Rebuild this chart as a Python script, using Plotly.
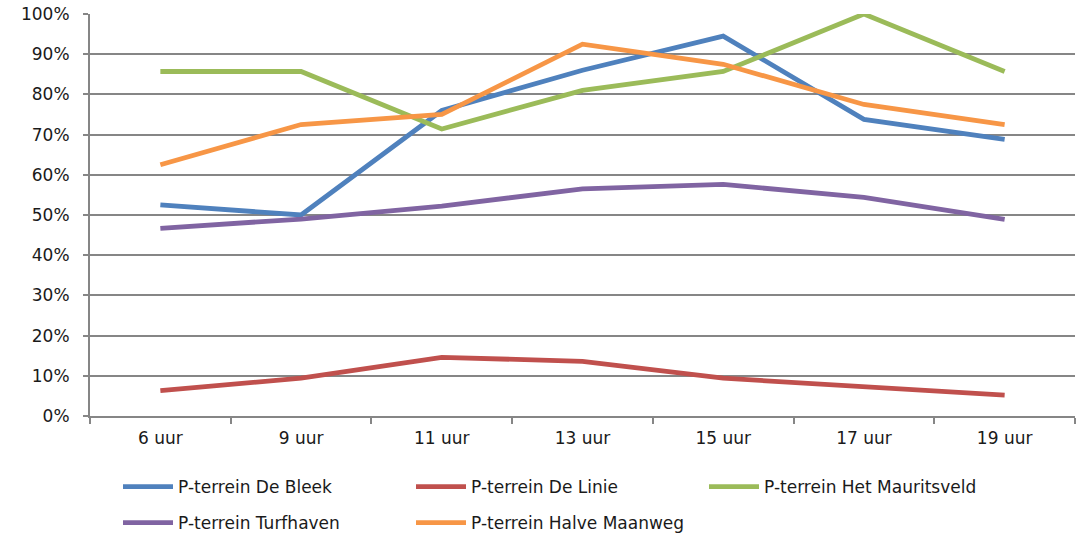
import plotly.graph_objects as go

categories = ["6 uur", "9 uur", "11 uur", "13 uur", "15 uur", "17 uur", "19 uur"]
de_bleek = [52.5, 50.0, 76.0, 86.0, 94.5, 73.8, 68.8]
de_linie = [6.3, 9.4, 14.6, 13.6, 9.4, 7.3, 5.2]
mauritsveld = [85.7, 85.7, 71.4, 81.0, 85.7, 100.0, 85.7]
turfhaven = [46.7, 49.0, 52.2, 56.5, 57.6, 54.4, 48.9]
halve_maanweg = [62.5, 72.5, 75.0, 92.5, 87.5, 77.5, 72.5]

series = [
    ("P-terrein De Bleek", de_bleek, "#4F81BD", "legend"),
    ("P-terrein De Linie", de_linie, "#C0504D", "legend"),
    ("P-terrein Het Mauritsveld", mauritsveld, "#9BBB59", "legend"),
    ("P-terrein Turfhaven", turfhaven, "#8064A2", "legend2"),
    ("P-terrein Halve Maanweg", halve_maanweg, "#F79646", "legend2"),
]

fig = go.Figure()
for name, vals, color, leg in series:
    fig.add_trace(go.Scatter(
        x=categories, y=[v / 100 for v in vals], name=name, mode="lines",
        line=dict(color=color, width=4.8), legend=leg,
    ))

FAM = "DejaVu Sans, Verdana, sans-serif"
font = dict(family=FAM, size=17, color="#1a1a1a")
legend_common = dict(
    orientation="h", xref="container", yref="container", xanchor="left", yanchor="middle",
    font=dict(family=FAM, size=17, color="#1a1a1a"),
    entrywidth=228, entrywidthmode="pixels", bgcolor="rgba(0,0,0,0)", itemwidth=50,
)
fig.update_layout(
    width=1091, height=537,
    margin=dict(l=90, r=16, t=14, b=121, autoexpand=False),
    paper_bgcolor="white", plot_bgcolor="white",
    font=font,
    showlegend=True,
    legend=dict(x=118 / 1091, y=1 - 487 / 537, **legend_common),
    legend2=dict(x=118 / 1091, y=1 - 523 / 537, **legend_common),
    xaxis=dict(
        type="category", range=[-0.5, 6.5], showgrid=False,
        showline=True, linecolor="#868686", linewidth=2,
        ticks="outside", tickson="boundaries", ticklen=6, tickcolor="#868686", tickwidth=2,
        ticklabelstandoff=6, zeroline=False,
    ),
    yaxis=dict(
        range=[0, 1], tickvals=[i / 10 for i in range(11)], tickformat=".0%",
        showgrid=True, gridcolor="#868686", gridwidth=2,
        showline=True, linecolor="#868686", linewidth=2,
        ticks="outside", ticklen=5, tickcolor="#868686", tickwidth=2,
        ticklabelstandoff=10, zeroline=False,
    ),
)

fig.write_html(
    "out.html",
    config={"displayModeBar": False},
    post_script="document.body.style.margin='0';document.body.style.overflow='hidden';",
)
